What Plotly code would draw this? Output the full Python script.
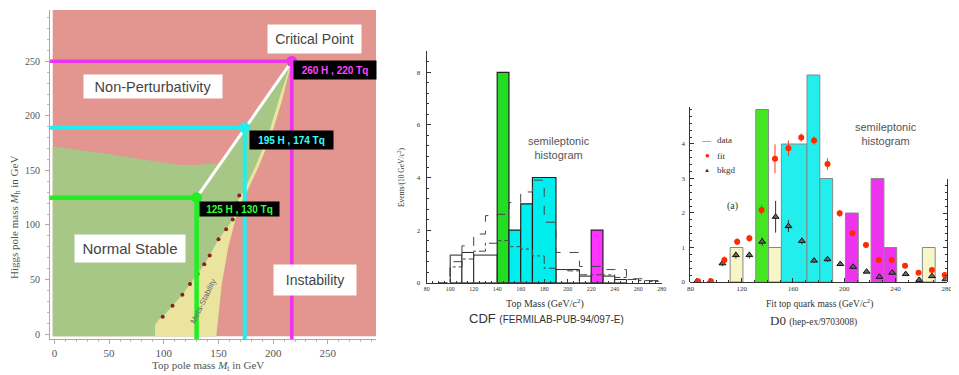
import plotly.graph_objects as go

# the page body keeps its default 8px margin, so the figure is sized to fit the window
# and every pixel position below is given in window pixels then shifted by OFF
WIN_W, WIN_H, OFF = 959, 375, 8
W, H = WIN_W - OFF, WIN_H - OFF

# ---------------- left panel: top pole mass vs Higgs pole mass (GeV) ----------------
T_RANGE = [-4, 294]
H_RANGE = [-4.5, 297]
FILL_T = [-1.5, 294]
FILL_H = [-2, 297]

STABLE_TOP_MT = [-1.5, 0, 20, 50, 80, 100, 115, 130, 140, 152]
STABLE_TOP_MH = [172, 172, 169, 165, 160, 157, 155, 155, 156, 157]
META_LEFT_MT = [92, 92, 95, 99, 108, 117, 124, 131, 137, 142, 150, 157, 163, 169, 174, 184, 196, 205, 216]
META_LEFT_MH = [-2, 8, 13, 16, 26, 36, 46, 55, 64, 72, 87, 96, 105, 125, 133, 154, 184, 214, 248]
META_RIGHT_MT = [148, 150, 153, 159, 166, 172, 177, 187, 199, 208, 217]
META_RIGHT_MH = [-2, 20, 46, 80, 107, 122, 133, 154, 184, 214, 250]
DOT_MT = [99, 108, 117, 124, 131, 137, 142, 150, 157, 163, 165, 167, 169]
DOT_MH = [16, 26, 36, 46, 55, 64, 72, 87, 96, 105, 113, 120, 127]

POINT_MT = [130, 174, 217]
POINT_MH = [125, 189, 250]
POINT_TEXT = ["125 H , 130 Tq", "195 H , 174 Tq", "260 H , 220 Tq"]

# ---------------- middle panel: CDF ----------------
CDF_BAR_LO = [140, 150, 160, 170, 220]
CDF_BAR_HI = [150, 160, 170, 190, 230]
CDF_BAR_EV = [8, 2, 3, 4, 2]
CDF_BAR_KIND = ["g", "c", "c", "c", "m"]
CDF_DATA_LO = [100, 110, 120, 190, 210, 230, 240]
CDF_DATA_HI = [110, 120, 140, 210, 220, 240, 250]
CDF_DATA_EV = [1.05, 1.15, 1.05, 0.5, 0.25, 0.25, 0.12]
CDF_EDGES = [90, 100, 110, 120, 130, 140, 150, 160, 170, 180, 190,
             200, 210, 220, 230, 240, 250, 260, 270, 280]
CDF_SIGBKG = [0, 0.8, 1.4, 1.85, 2.55, 2.6, 3.05, 3.45, 3.9, 2.3,
              1.15, 1.15, 0.62, 0.62, 0.5, 0.5, 0.15, 0.15, 0.08]
CDF_BKG = [0, 0.6, 0.9, 1.2, 1.5, 1.6, 1.37, 1.28, 1.02, 0.55,
           0.5, 0.45, 0.3, 0.3, 0.3, 0.2, 0.12, 0.08, 0.05]

# ---------------- right panel: D0 ----------------
D0_BAR_LO = [111, 131, 141, 151, 171, 181, 201, 221, 231, 261]
D0_BAR_HI = [121, 141, 151, 171, 181, 191, 211, 231, 241, 271]
D0_BAR_EV = [1, 5, 1, 4, 6, 3, 2, 3, 1, 1]
D0_BAR_KIND = ["y", "g", "y", "c", "c", "c", "m", "m", "m", "y"]
D0_FIT_M = [86, 96, 106.5, 116.5, 126, 135.5, 146, 156.5, 166.5, 176.5,
            187, 196.5, 206.5, 217, 227, 237, 247.5, 258, 268.5, 278.5]
D0_FIT_N = [0.02, 0.02, 0.64, 1.17, 1.27, 2.09, 3.57, 3.88, 4.19, 4.1,
            3.42, 1.99, 1.41, 1.07, 0.64, 0.64, 0.47, 0.27, 0.35, 0.2]
D0_FIT_ERR = [0.05, 0.05, 0.1, 0.1, 0.1, 0.15, 0.42, 0.22, 0.12, 0.12,
              0.17, 0.1, 0.08, 0.08, 0.06, 0.06, 0.06, 0.05, 0.05, 0.05]
D0_BKG_M = [85, 95.5, 105, 115.5, 126, 136, 146.5, 156.5, 167, 176.5,
            187, 197, 207, 217.5, 227.5, 237.5, 248, 258.5, 268.5, 279]
D0_BKG_N = [0.02, 0.02, 0.54, 0.78, 0.78, 1.17, 1.89, 1.62, 1.19, 0.62,
            0.66, 0.52, 0.44, 0.3, 0.15, 0.27, 0.23, 0.06, 0.17, 0.08]
D0_BKG_ERR = [0.03, 0.03, 0.08, 0.1, 0.1, 0.12, 0.46, 0.17, 0.1, 0.06,
              0.08, 0.06, 0.05, 0.04, 0.03, 0.04, 0.04, 0.03, 0.03, 0.03]

RED_BG = "#e3958f"
GREEN_BG = "#a7c787"
YELLOW_BG = "#ebe49e"
LINE_COL = ["#22ee22", "#22eeee", "#ee33ee"]
TEXT_COL = ["#33ff33", "#33ffff", "#ff44ff"]
CDF_COL = {"g": "#22dd22", "c": "#00eeee", "m": "#ff33ff"}
D0_COL = {"g": "#44e622", "c": "#22eeee", "m": "#ee33ee", "y": "#f8f6c6"}
SERIF = "Liberation Serif"
SANS = "Liberation Sans"


def px(x):
    return (x - OFF) / W


def py(y):
    return 1 - (y - OFF) / H


fig = go.Figure()

# ---- left panel regions
green_x = STABLE_TOP_MT + [POINT_MT[2]] + META_RIGHT_MT[::-1] + [FILL_T[0]]
green_y = STABLE_TOP_MH + [POINT_MH[2]] + META_RIGHT_MH[::-1] + [FILL_H[0]]
fig.add_trace(go.Scatter(x=green_x, y=green_y, mode="lines", fill="toself",
                         fillcolor=GREEN_BG, line=dict(width=0), hoverinfo="skip"))
yel_x = META_LEFT_MT + META_RIGHT_MT[::-1]
yel_y = META_LEFT_MH + META_RIGHT_MH[::-1]
fig.add_trace(go.Scatter(x=yel_x, y=yel_y, mode="lines", fill="toself",
                         fillcolor=YELLOW_BG, line=dict(width=0), hoverinfo="skip"))
fig.add_trace(go.Scatter(x=DOT_MT, y=DOT_MH, mode="markers", hoverinfo="skip",
                         marker=dict(size=4, color="#8b2020")))
# white line through the three points
fig.add_trace(go.Scatter(x=[POINT_MT[0], POINT_MT[2]], y=[POINT_MH[0], POINT_MH[2]],
                         mode="lines", line=dict(color="white", width=3), hoverinfo="skip"))
widths = [4.5, 4, 3.5]
for i in range(3):
    fig.add_trace(go.Scatter(x=[T_RANGE[0], POINT_MT[i], POINT_MT[i]],
                             y=[POINT_MH[i], POINT_MH[i], H_RANGE[0]],
                             mode="lines", line=dict(color=LINE_COL[i], width=widths[i]),
                             hoverinfo="skip"))
fig.add_trace(go.Scatter(x=POINT_MT, y=POINT_MH, mode="markers", hoverinfo="skip",
                         marker=dict(size=11, color=LINE_COL)))

# ---- CDF panel
fig.add_trace(go.Bar(x=[(a + b) / 2 for a, b in zip(CDF_DATA_LO, CDF_DATA_HI)],
                     width=[b - a for a, b in zip(CDF_DATA_LO, CDF_DATA_HI)],
                     y=CDF_DATA_EV, xaxis="x2", yaxis="y2",
                     marker=dict(color="white", line=dict(color="#222", width=1))))
fig.add_trace(go.Bar(x=[(a + b) / 2 for a, b in zip(CDF_BAR_LO, CDF_BAR_HI)],
                     width=[b - a for a, b in zip(CDF_BAR_LO, CDF_BAR_HI)],
                     y=CDF_BAR_EV, xaxis="x2", yaxis="y2",
                     marker=dict(color=[CDF_COL[k] for k in CDF_BAR_KIND],
                                 line=dict(color="#222", width=1.2))))
fig.add_trace(go.Scatter(x=CDF_EDGES, y=CDF_SIGBKG + [CDF_SIGBKG[-1]], xaxis="x2", yaxis="y2",
                         mode="lines", line=dict(shape="hv", color="#444", width=1, dash="dash")))
fig.add_trace(go.Scatter(x=CDF_EDGES, y=CDF_BKG + [CDF_BKG[-1]], xaxis="x2", yaxis="y2",
                         mode="lines", line=dict(shape="hv", color="#444", width=1, dash="dashdot")))

# ---- D0 panel
fig.add_trace(go.Bar(x=[(a + b) / 2 for a, b in zip(D0_BAR_LO, D0_BAR_HI)],
                     width=[b - a for a, b in zip(D0_BAR_LO, D0_BAR_HI)],
                     y=D0_BAR_EV, xaxis="x3", yaxis="y3",
                     marker=dict(color=[D0_COL[k] for k in D0_BAR_KIND],
                                 line=dict(color="#888", width=1))))
fig.add_trace(go.Scatter(x=D0_BKG_M, y=D0_BKG_N, xaxis="x3", yaxis="y3", mode="markers",
                         error_y=dict(array=D0_BKG_ERR, color="#333", thickness=1, width=0),
                         marker=dict(symbol="triangle-up", size=6, color="#666",
                                     line=dict(color="#111", width=1))))
fig.add_trace(go.Scatter(x=D0_FIT_M, y=D0_FIT_N, xaxis="x3", yaxis="y3", mode="markers",
                         error_y=dict(array=D0_FIT_ERR, color="#ff3b1f", thickness=1, width=0),
                         marker=dict(size=6, color="#ff2a00")))
# decorative axes of the D0 frame
fig.add_trace(go.Scatter(x=[None], y=[None], xaxis="x3", yaxis="y4"))
fig.add_trace(go.Scatter(x=[None], y=[None], xaxis="x3", yaxis="y5"))

tick_font = dict(family=SERIF, size=7, color="#333")
fig.update_layout(
    width=W, height=H, margin=dict(l=0, r=0, t=0, b=0, autoexpand=False),
    paper_bgcolor="white", plot_bgcolor="rgba(0,0,0,0)", showlegend=False, barmode="overlay",
    xaxis=dict(domain=[px(50), px(376)], range=T_RANGE, anchor="y", automargin=False,
               tickvals=[0, 50, 100, 150, 200, 250], showgrid=False, zeroline=False,
               showline=True, linecolor="#aaa", ticks="outside", ticklen=4, tickcolor="#aaa",
               minor=dict(dtick=10, ticklen=2, ticks="outside", tickcolor="#bbb"),
               tickfont=dict(family=SERIF, size=11, color="#555")),
    yaxis=dict(domain=[py(339), py(10)], range=H_RANGE, anchor="x", automargin=False,
               tickvals=[0, 50, 100, 150, 200, 250], showgrid=False, zeroline=False,
               showline=True, linecolor="#aaa", ticks="outside", ticklen=4, tickcolor="#aaa",
               ticklabelstandoff=3,
               minor=dict(dtick=10, ticklen=2, ticks="outside", tickcolor="#bbb"),
               tickfont=dict(family=SERIF, size=10, color="#555")),
    xaxis2=dict(domain=[px(426.7), px(661.7)], range=[80, 280], anchor="y2", automargin=False,
                tickvals=[80, 100, 120, 140, 160, 180, 200, 220, 240, 260, 280],
                showgrid=False, zeroline=False, showline=True, linecolor="#333",
                ticks="inside", ticklen=4, tickcolor="#333",
                minor=dict(dtick=5, ticklen=2, ticks="inside", tickcolor="#333"),
                tickfont=dict(family=SERIF, size=6, color="#333")),
    yaxis2=dict(domain=[py(282.7), py(51.3)], range=[0, 8.8], anchor="x2", automargin=False,
                tickvals=[0, 2, 4, 6, 8], showgrid=False, zeroline=False,
                showline=True, linecolor="#333", ticks="inside", ticklen=4, tickcolor="#333",
                ticklabelstandoff=4,
                minor=dict(dtick=0.4, ticklen=2, ticks="inside", tickcolor="#333"),
                tickfont=tick_font),
    xaxis3=dict(domain=[px(690.4), px(946.7)], range=[80, 280], anchor="y3", automargin=False,
                tickvals=[80, 120, 160, 200, 240, 280], showgrid=False, zeroline=False,
                showline=True, linecolor="#333", ticks="inside", ticklen=4, tickcolor="#333",
                minor=dict(dtick=10, ticklen=2, ticks="inside", tickcolor="#333"),
                tickfont=tick_font),
    yaxis3=dict(domain=[py(282), py(282 - 6.2 * 34.5)], range=[0, 6.2], anchor="x3",
                visible=False, automargin=False),
    yaxis5=dict(domain=[py(282), py(106.7)], range=[0, 5.08], anchor="x3", automargin=False,
                tickvals=[0, 1, 2, 3, 4], showgrid=False, zeroline=False,
                showline=True, linecolor="#333", ticks="inside", ticklen=4, tickcolor="#333",
                ticklabelstandoff=3,
                minor=dict(dtick=0.2, ticklen=2, ticks="inside", tickcolor="#333"),
                tickfont=tick_font),
    yaxis4=dict(domain=[py(282), py(178.5)], range=[0, 3], anchor="x3", side="right",
                automargin=False,
                tickvals=[0, 1, 2, 3], showticklabels=False, showgrid=False, zeroline=False,
                showline=True, linecolor="#333", ticks="inside", ticklen=4, tickcolor="#333",
                minor=dict(dtick=0.2, ticklen=2, ticks="inside", tickcolor="#333")),
)

# red background of the phase diagram
fig.add_shape(type="rect", xref="x", yref="y", x0=FILL_T[0], x1=FILL_T[1],
              y0=FILL_H[0], y1=FILL_H[1], fillcolor=RED_BG, line=dict(width=0), layer="below")

# ---- left panel annotations
region_labels = [
    ("Non-Perturbativity", 89.9, 226.5, 138, 23, 14.5),
    ("Normal Stable", 69.3, 78.5, 110, 27, 15),
    ("Critical Point", 237.4, 270, 93, 28, 14),
    ("Instability", 238, 49.5, 82, 30, 14),
]
for txt, xx, yy, w, h, fs in region_labels:
    fig.add_annotation(x=xx, y=yy, xref="x", yref="y", text=txt, showarrow=False,
                       bgcolor="white", width=w, height=h, borderpad=0,
                       font=dict(family=SANS, size=fs, color="#444"))
label_pos = [(169, 114.6, 79, 14), (217.2, 177.5, 83, 18), (256.6, 241.6, 82, 18)]
for i, (xx, yy, w, h) in enumerate(label_pos):
    fig.add_annotation(x=xx, y=yy, xref="x", yref="y", text="<b>%s</b>" % POINT_TEXT[i],
                       showarrow=False, bgcolor="black", width=w, height=h, borderpad=0,
                       font=dict(family=SANS, size=10, color=TEXT_COL[i]))
fig.add_annotation(x=136, y=30, xref="x", yref="y", text="Meta-Stability",
                   textangle=-64, showarrow=False,
                   font=dict(family=SANS, size=8, color="#666"))


def note(text, x, y, size, family=SERIF, color="#444", angle=0, xanchor="center"):
    fig.add_annotation(x=px(x), y=py(y), xref="paper", yref="paper", text=text,
                       showarrow=False, textangle=angle, xanchor=xanchor, yanchor="middle",
                       font=dict(family=family, size=size, color=color))


note("Top pole mass <i>M</i><sub>t</sub> in GeV", 208, 366, 11, color="#555")
note("Higgs pole mass <i>M</i><sub>h</sub> in GeV", 15, 218, 11, color="#555", angle=-90)

# ---- CDF texts
note("Events/(10 GeV/c<sup>2</sup>)", 401, 177, 7.5, angle=-90, color="#333")
note("Top Mass (GeV/c<sup>2</sup>)", 545, 303, 10, color="#333")
note("CDF <span style='font-size:10px'>(FERMILAB-PUB-94/097-E)</span>", 546, 318, 13,
     family=SANS, color="#333")
note("semileptonic<br>histogram", 559, 148, 11, family=SANS, color="#555")

# ---- D0 texts
note("Fit top quark mass (GeV/c<sup>2</sup>)", 819, 303, 9.5, color="#333")
note("D0 <span style='font-size:9.5px'>(hep-ex/9703008)</span>", 813, 320, 13, color="#333")
note("semileptonic<br>histogram", 886, 134, 11, family=SANS, color="#555")
note("(a)", 732, 206, 10, color="#333")
note("\u2014", 706, 140, 9, color="#666")
note("data", 715, 140, 9, color="#333", xanchor="left")
note("\u25cf", 707, 156, 8, color="#ff2a00")
note("fit", 715, 156, 9, color="#333", xanchor="left")
note("\u25b2", 707, 170, 6, color="#333")
note("bkgd", 715, 170, 9, color="#333", xanchor="left")

fig.write_html("out.html")
